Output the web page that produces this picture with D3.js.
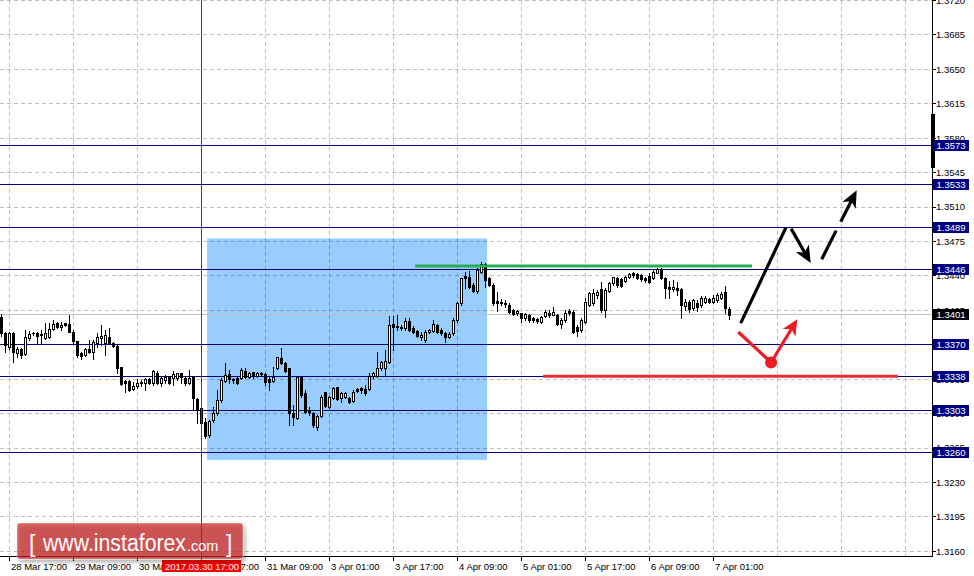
<!DOCTYPE html>
<html><head><meta charset="utf-8">
<script src="https://cdn.jsdelivr.net/npm/d3@7"></script>
<style>
html,body{margin:0;padding:0;background:#fff;}
svg{display:block;font-family:"Liberation Sans",Arial,sans-serif;}
</style></head><body>
<svg id="c" width="974" height="576"></svg>
<script>
// ---------------- DATA ----------------
const startTime = Date.UTC(2017, 2, 28, 15); // first bar: 28 Mar 15:00 (H1 bars)
const opens = [1.3398,1.3382,1.3368,1.3382,1.3362,1.3366,1.3361,1.3377,1.3382,1.3382,
1.3381,1.3377,1.3378,1.3386,1.3392,1.3388,1.3392,1.3391,1.3383,1.3374,
1.3362,1.3360,1.3366,1.3363,1.3372,1.3377,1.3372,1.3378,1.3372,1.3369,
1.3347,1.3333,1.3333,1.3325,1.3328,1.3332,1.3331,1.3335,1.3331,1.3341,
1.3331,1.3334,1.3338,1.3336,1.3336,1.3341,1.3336,1.3331,1.3338,1.3315,
1.3306,1.3292,1.3278,1.3294,1.3301,1.3314,1.3333,1.3340,1.3335,1.3336,
1.3336,1.3343,1.3337,1.3342,1.3338,1.3341,1.3340,1.3335,1.3333,1.3346,
1.3357,1.3351,1.3346,1.3301,1.3296,1.3337,1.3321,1.3304,1.3301,1.3286,
1.3298,1.3322,1.3307,1.3316,1.3327,1.3316,1.3317,1.3316,1.3313,1.3325,
1.3326,1.3325,1.3325,1.3338,1.3338,1.3346,1.3346,1.3352,1.3391,1.3388,
1.3388,1.3387,1.3394,1.3387,1.3384,1.3378,1.3375,1.3383,1.3384,1.3390,
1.3385,1.3382,1.3378,1.3382,1.3395,1.3412,1.3440,1.3439,1.3431,1.3425,
1.3444,1.3452,1.3438,1.3431,1.3414,1.3413,1.3412,1.3410,1.3405,1.3402,
1.3402,1.3397,1.3400,1.3397,1.3396,1.3393,1.3399,1.3402,1.3400,1.3400,
1.3391,1.3395,1.3404,1.3403,1.3388,1.3385,1.3393,1.3410,1.3412,1.3421,
1.3427,1.3405,1.3425,1.3433,1.3438,1.3437,1.3435,1.3439,1.3443,1.3442,
1.3441,1.3438,1.3440,1.3438,1.3443,1.3447,1.3438,1.3429,1.3427,1.3428,
1.3427,1.3409,1.3413,1.3407,1.3412,1.3410,1.3413,1.3417,1.3413,1.3415,
1.3418,1.3424,1.3406];
const highs = [1.3401,1.3383,1.3383,1.3383,1.3368,1.3367,1.3385,1.3384,1.3383,1.3383,
1.3385,1.3392,1.3392,1.3395,1.3393,1.3393,1.3392,1.3400,1.3385,1.3374,
1.3363,1.3367,1.3375,1.3375,1.3382,1.3390,1.3385,1.3387,1.3373,1.3370,
1.3347,1.3334,1.3334,1.3332,1.3335,1.3334,1.3336,1.3336,1.3344,1.3343,
1.3337,1.3339,1.3338,1.3343,1.3341,1.3341,1.3337,1.3344,1.3338,1.3316,
1.3307,1.3296,1.3294,1.3307,1.3324,1.3336,1.3351,1.3344,1.3336,1.3337,
1.3346,1.3346,1.3342,1.3342,1.3342,1.3342,1.3341,1.3337,1.3347,1.3358,
1.3367,1.3352,1.3346,1.3309,1.3338,1.3338,1.3324,1.3307,1.3302,1.3299,
1.3319,1.3322,1.3318,1.3327,1.3327,1.3322,1.3322,1.3317,1.3324,1.3326,
1.3327,1.3329,1.3341,1.3342,1.3363,1.3354,1.3365,1.3399,1.3399,1.3400,
1.3390,1.3397,1.3397,1.3389,1.3385,1.3383,1.3385,1.3386,1.3395,1.3391,
1.3387,1.3383,1.3383,1.3397,1.3413,1.3438,1.3444,1.3445,1.3433,1.3448,
1.3454,1.3453,1.3439,1.3433,1.3424,1.3417,1.3415,1.3412,1.3406,1.3405,
1.3402,1.3402,1.3401,1.3398,1.3397,1.3399,1.3405,1.3405,1.3408,1.3401,
1.3397,1.3405,1.3406,1.3405,1.3390,1.3397,1.3418,1.3424,1.3427,1.3426,
1.3434,1.3428,1.3434,1.3439,1.3439,1.3438,1.3440,1.3443,1.3444,1.3443,
1.3442,1.3439,1.3443,1.3446,1.3448,1.3448,1.3439,1.3435,1.3436,1.3434,
1.3428,1.3417,1.3415,1.3417,1.3415,1.3420,1.3420,1.3418,1.3421,1.3423,
1.3424,1.3430,1.3408];
const lows = [1.3379,1.3363,1.3366,1.3352,1.3358,1.3357,1.3360,1.3375,1.3380,1.3372,
1.3372,1.3376,1.3377,1.3385,1.3387,1.3385,1.3389,1.3383,1.3372,1.3358,
1.3356,1.3359,1.3362,1.3356,1.3368,1.3370,1.3360,1.3371,1.3368,1.3341,
1.3329,1.3322,1.3323,1.3324,1.3326,1.3328,1.3324,1.3330,1.3329,1.3330,
1.3328,1.3331,1.3330,1.3329,1.3334,1.3331,1.3329,1.3330,1.3304,1.3290,
1.3289,1.3275,1.3276,1.3292,1.3299,1.3312,1.3332,1.3331,1.3331,1.3330,
1.3335,1.3336,1.3336,1.3336,1.3337,1.3338,1.3329,1.3324,1.3332,1.3345,
1.3350,1.3342,1.3288,1.3288,1.3295,1.3317,1.3301,1.3299,1.3286,1.3283,
1.3297,1.3307,1.3306,1.3315,1.3314,1.3312,1.3316,1.3311,1.3312,1.3322,
1.3321,1.3319,1.3324,1.3336,1.3337,1.3344,1.3339,1.3351,1.3365,1.3385,
1.3385,1.3385,1.3384,1.3382,1.3378,1.3375,1.3373,1.3382,1.3383,1.3382,
1.3380,1.3373,1.3377,1.3380,1.3393,1.3410,1.3428,1.3428,1.3424,1.3423,
1.3443,1.3429,1.3430,1.3410,1.3404,1.3410,1.3408,1.3402,1.3400,1.3400,
1.3393,1.3395,1.3393,1.3393,1.3392,1.3392,1.3398,1.3398,1.3400,1.3390,
1.3387,1.3393,1.3400,1.3382,1.3379,1.3383,1.3392,1.3409,1.3410,1.3418,
1.3403,1.3398,1.3424,1.3431,1.3429,1.3429,1.3434,1.3438,1.3439,1.3437,
1.3435,1.3434,1.3433,1.3437,1.3443,1.3437,1.3418,1.3418,1.3425,1.3421,
1.3397,1.3405,1.3403,1.3405,1.3404,1.3408,1.3412,1.3412,1.3412,1.3413,
1.3417,1.3402,1.3396];
const closes = [1.3382,1.3370,1.3382,1.3363,1.3366,1.3360,1.3378,1.3381,1.3382,1.3379,
1.3380,1.3382,1.3386,1.3391,1.3388,1.3390,1.3390,1.3383,1.3374,1.3360,
1.3359,1.3366,1.3363,1.3373,1.3378,1.3379,1.3380,1.3372,1.3369,1.3346,
1.3330,1.3331,1.3324,1.3328,1.3331,1.3331,1.3335,1.3331,1.3343,1.3331,
1.3336,1.3337,1.3331,1.3340,1.3341,1.3337,1.3331,1.3336,1.3316,1.3304,
1.3290,1.3277,1.3293,1.3301,1.3314,1.3334,1.3339,1.3335,1.3334,1.3331,
1.3344,1.3337,1.3341,1.3339,1.3341,1.3340,1.3332,1.3332,1.3337,1.3358,
1.3351,1.3343,1.3301,1.3297,1.3337,1.3319,1.3302,1.3302,1.3288,1.3298,
1.3317,1.3308,1.3317,1.3326,1.3315,1.3321,1.3321,1.3312,1.3322,1.3323,
1.3324,1.3321,1.3338,1.3341,1.3346,1.3352,1.3354,1.3390,1.3388,1.3389,
1.3387,1.3394,1.3385,1.3383,1.3379,1.3380,1.3383,1.3385,1.3391,1.3383,
1.3382,1.3378,1.3381,1.3395,1.3412,1.3438,1.3438,1.3429,1.3425,1.3446,
1.3452,1.3436,1.3431,1.3412,1.3412,1.3412,1.3411,1.3403,1.3401,1.3404,
1.3397,1.3401,1.3395,1.3395,1.3394,1.3398,1.3403,1.3400,1.3403,1.3391,
1.3395,1.3402,1.3402,1.3383,1.3384,1.3395,1.3413,1.3423,1.3423,1.3424,
1.3405,1.3426,1.3433,1.3439,1.3431,1.3430,1.3439,1.3442,1.3441,1.3438,
1.3437,1.3436,1.3434,1.3444,1.3447,1.3438,1.3428,1.3427,1.3429,1.3426,
1.3410,1.3413,1.3406,1.3415,1.3408,1.3418,1.3418,1.3413,1.3418,1.3421,
1.3422,1.3407,1.3400];

const priceTicks = [1.3160,1.3195,1.3230,1.3265,1.3300,1.3335,1.3370,1.3405,1.3440,1.3475,1.3510,1.3545,1.3580,1.3615,1.3650,1.3685,1.3720];
const tickLabels = ["28 Mar 17:00","29 Mar 09:00","30 Mar 01:00","30 Mar 17:00","31 Mar 09:00","3 Apr 01:00","3 Apr 17:00","4 Apr 09:00","5 Apr 01:00","5 Apr 17:00","6 Apr 09:00","7 Apr 01:00"];
const gridLabels = ["7 Apr 17:00","10 Apr 09:00","11 Apr 01:00"]; // grid-only (future) verticals
const levels = [1.3573,1.3533,1.3489,1.3446,1.3370,1.3338,1.3303,1.3260];
const bidPrice = 1.3401;
const cursorTime = "30 Mar 17:00";
const cursorLabel = "2017.03.30 17:00";
const zoneBars = [51.4, 121.4];
const zonePrices = [1.3478, 1.3253];
const resistBars = [103.4, 187.6];
const resistPrice = 1.3450;
const supportBars = [135.4, 224.1];
const supportPrice = 1.3338;
const upPathBars = [184.8, 196.1];
const upPathPrices = [1.3392, 1.3489];
const dropBars = [197.4, 202.3];
const dropPrices = [1.3488, 1.3453];
const rallyBars = [205.05, 213.8];
const rallyPrices = [1.3457, 1.3527];
const altBars = [184.2, 192.4, 198.95];
const altPrices = [1.3383, 1.3352, 1.3396];

// ---------------- SETUP ----------------
const W = 974, H = 576, plotR = 932, plotB = 556;
const svg = d3.select("#c");
const months = ["Jan","Feb","Mar","Apr","May","Jun","Jul","Aug","Sep","Oct","Nov","Dec"];
const pad = n => (n < 10 ? "0" : "") + n;
// bar times (hourly, skipping weekend)
const barTimes = [];
{
  let t = startTime;
  while (barTimes.length < 240) {
    const d = new Date(t);
    const wd = d.getUTCDay();
    if (wd !== 0 && wd !== 6) barTimes.push(d.getUTCDate() + " " + months[d.getUTCMonth()] + " " + pad(d.getUTCHours()) + ":00");
    t += 3600000;
  }
}
const barIndex = lbl => barTimes.indexOf(lbl);

const x = d3.scaleLinear().domain([0, 232]).range([1.5, 929.5]);
const y = d3.scaleLinear().domain([1.3160, 1.3720]).range([551.4, 0.36]);
const px = i => Math.floor(x(i));
const py = v => Math.round(y(v));

const defs = svg.append("defs");
const sh = defs.append("filter").attr("id","sh").attr("x","-10%").attr("y","-20%").attr("width","130%").attr("height","160%");
sh.append("feDropShadow").attr("dx",2).attr("dy",3).attr("stdDeviation",2.2).attr("flood-color","#000").attr("flood-opacity",0.45);
defs.append("clipPath").attr("id","plot").append("rect").attr("x",0).attr("y",0).attr("width",plotR).attr("height",plotB);

svg.append("rect").attr("width",W).attr("height",H).attr("fill","#fff");
const plot = svg.append("g").attr("clip-path","url(#plot)");

// zone rectangle
plot.append("rect")
  .attr("x", x(zoneBars[0])).attr("width", x(zoneBars[1]) - x(zoneBars[0]))
  .attr("y", y(zonePrices[0])).attr("height", y(zonePrices[1]) - y(zonePrices[0]))
  .attr("fill", "rgb(153,204,255)");

// grid
const grid = plot.append("g").style("mix-blend-mode","multiply").attr("shape-rendering","crispEdges");
const gridBars = tickLabels.concat(gridLabels).map(barIndex);
grid.selectAll("line.v").data(gridBars).join("line")
  .attr("x1", d => px(d) + 0.5).attr("x2", d => px(d) + 0.5)
  .attr("y1", 0).attr("y2", plotB)
  .attr("stroke", "#c0c0c0").attr("stroke-dasharray", "4,3");
grid.selectAll("line.h").data(priceTicks).join("line")
  .attr("x1", 0).attr("x2", plotR)
  .attr("y1", d => Math.floor(y(d)) + 0.5).attr("y2", d => Math.floor(y(d)) + 0.5)
  .attr("stroke", "#c0c0c0").attr("stroke-dasharray", "4,3");

// level lines
plot.append("g").attr("shape-rendering","crispEdges").selectAll("line").data(levels).join("line")
  .attr("x1", 0).attr("x2", plotR)
  .attr("y1", d => Math.floor(y(d)) + 0.5).attr("y2", d => Math.floor(y(d)) + 0.5)
  .attr("stroke", "#000080");
// bid line
plot.append("line").attr("shape-rendering","crispEdges")
  .attr("x1", 0).attr("x2", plotR)
  .attr("y1", Math.floor(y(bidPrice)) + 0.5).attr("y2", Math.floor(y(bidPrice)) + 0.5)
  .attr("stroke", "#c0c0c0");

// candles
const cg = plot.append("g").attr("shape-rendering","crispEdges");
opens.forEach((o, i) => {
  const c = closes[i], h = highs[i], l = lows[i];
  const cx = px(i);
  cg.append("line").attr("x1", cx + 0.5).attr("x2", cx + 0.5)
    .attr("y1", py(h)).attr("y2", py(l) + 1).attr("stroke", "#000");
  const top = py(Math.max(o, c)), bot = py(Math.min(o, c));
  if (c < o) {
    cg.append("rect").attr("x", cx - 1).attr("width", 3).attr("y", top).attr("height", Math.max(1, bot - top + 1)).attr("fill", "#000");
  } else if (bot - top >= 2) {
    cg.append("rect").attr("x", cx - 0.5).attr("width", 2).attr("y", top + 0.5).attr("height", bot - top)
      .attr("fill", "#fff").attr("stroke", "#000");
  } else {
    cg.append("rect").attr("x", cx - 1).attr("width", 3).attr("y", top).attr("height", Math.max(1, bot - top + 1)).attr("fill", "#000");
  }
});

// annotations
const ann = plot.append("g");
ann.append("line").attr("x1", x(resistBars[0])).attr("x2", x(resistBars[1]))
  .attr("y1", y(resistPrice)).attr("y2", y(resistPrice))
  .attr("stroke", "#2aae4c").attr("stroke-width", 3);
ann.append("line").attr("x1", x(supportBars[0])).attr("x2", x(supportBars[1]))
  .attr("y1", y(supportPrice)).attr("y2", y(supportPrice))
  .attr("stroke", "#ea2a2f").attr("stroke-width", 3.2);

function arrow(g, p1, p2, color, w, dash, hl, hw) {
  const [x1, y1] = p1, [x2, y2] = p2;
  const dx = x2 - x1, dy = y2 - y1, L = Math.hypot(dx, dy), ux = dx / L, uy = dy / L;
  const ln = g.append("line").attr("x1", x1).attr("y1", y1)
    .attr("x2", x2 - ux * hl * 0.7).attr("y2", y2 - uy * hl * 0.7)
    .attr("stroke", color).attr("stroke-width", w);
  if (dash) ln.attr("stroke-dasharray", dash);
  const bx = x2 - ux * hl, by = y2 - uy * hl;
  const nx = x2 - ux * hl * 0.72, ny = y2 - uy * hl * 0.72;
  g.append("polygon").attr("points", [
    [x2, y2], [bx - uy * hw / 2, by + ux * hw / 2], [nx, ny], [bx + uy * hw / 2, by - ux * hw / 2]
  ].map(p => p.join(",")).join(" ")).attr("fill", color);
}
const P = (b, p) => [x(b), y(p)];
ann.append("line")
  .attr("x1", x(upPathBars[0])).attr("y1", y(upPathPrices[0]))
  .attr("x2", x(upPathBars[1])).attr("y2", y(upPathPrices[1]))
  .attr("stroke", "#000").attr("stroke-width", 3.2);
arrow(ann, P(dropBars[0], dropPrices[0]), P(dropBars[1], dropPrices[1]), "#000", 3.2, null, 17, 15);
arrow(ann, P(rallyBars[0], rallyPrices[0]), P(rallyBars[1], rallyPrices[1]), "#000", 3.2, "32,10", 17, 15);
ann.append("line")
  .attr("x1", x(altBars[0])).attr("y1", y(altPrices[0]))
  .attr("x2", x(altBars[1])).attr("y2", y(altPrices[1]))
  .attr("stroke", "#ed1c24").attr("stroke-width", 3.2);
arrow(ann, P(altBars[1], altPrices[1]), P(altBars[2], altPrices[2]), "#ed1c24", 3.2, null, 16, 15);
ann.append("circle").attr("cx", x(altBars[1])).attr("cy", y(altPrices[1])).attr("r", 6).attr("fill", "#ed1c24");

// crosshair vertical
const ci = barIndex(cursorTime);
svg.append("line").attr("shape-rendering","crispEdges")
  .attr("x1", px(ci) + 0.5).attr("x2", px(ci) + 0.5).attr("y1", 0).attr("y2", plotB)
  .attr("stroke", "#e00000");

// axes
const axes = svg.append("g").attr("shape-rendering","crispEdges");
axes.append("line").attr("x1", plotR + 0.5).attr("x2", plotR + 0.5).attr("y1", 0).attr("y2", plotB + 1).attr("stroke", "#000");
axes.append("line").attr("x1", 0).attr("x2", plotR + 1).attr("y1", plotB + 0.5).attr("y2", plotB + 0.5).attr("stroke", "#000");
axes.append("rect").attr("x", plotR - 1).attr("width", 4).attr("y", 114).attr("height", 54).attr("fill", "#000");

axes.selectAll("line.pt").data(priceTicks).join("line")
  .attr("x1", plotR).attr("x2", plotR + 4)
  .attr("y1", d => Math.floor(y(d)) + 0.5).attr("y2", d => Math.floor(y(d)) + 0.5).attr("stroke", "#000");
svg.append("g").selectAll("text").data(priceTicks).join("text")
  .attr("x", 936).attr("y", d => y(d) + 3.4)
  .attr("font-size", 9.5).attr("fill", "#000")
  .text(d => d.toFixed(4));

const tickBars = tickLabels.map(barIndex);
axes.selectAll("line.tt").data(tickBars).join("line")
  .attr("x1", d => px(d) + 0.5).attr("x2", d => px(d) + 0.5)
  .attr("y1", plotB).attr("y2", plotB + 5).attr("stroke", "#000");
svg.append("g").selectAll("text").data(tickLabels).join("text")
  .attr("x", d => px(barIndex(d)) + 2).attr("y", 569.5)
  .attr("font-size", 9.5).attr("fill", "#000")
  .text(d => d);

// level labels
const lab = svg.append("g");
levels.concat([bidPrice]).forEach(v => {
  const cy = Math.floor(y(v));
  lab.append("rect").attr("x", 933).attr("y", cy - 5).attr("width", 36).attr("height", 11)
    .attr("fill", v === bidPrice ? "#000" : "#000080").attr("shape-rendering","crispEdges");
  lab.append("text").attr("x", 936.5).attr("y", cy + 4).attr("font-size", 9.5).attr("fill", "#fff").text(v.toFixed(4));
});

// cursor time label
svg.append("rect").attr("x", 162).attr("y", 560).attr("width", 79).attr("height", 12).attr("fill", "#ff0000");
svg.append("text").attr("x", 165).attr("y", 569.5).attr("font-size", 9.5).attr("fill", "#fff").text(cursorLabel);

// logo
const logo = svg.append("g");
logo.append("rect").attr("x", 17).attr("y", 523).attr("width", 226).attr("height", 36).attr("rx", 3)
  .attr("fill", "rgba(200,32,36,0.68)").attr("stroke", "rgba(255,255,255,0.35)").attr("filter", "url(#sh)");
logo.append("text").attr("x", 29).attr("y", 552).attr("fill", "#fff").attr("font-size", 23).text("[");
logo.append("text").attr("x", 43).attr("y", 551).attr("fill", "#fff").attr("font-size", 23)
  .attr("textLength", 143).attr("lengthAdjust", "spacingAndGlyphs").text("www.instaforex");
logo.append("text").attr("x", 187).attr("y", 551).attr("fill", "#fff").attr("font-size", 14.5).text(".com");
logo.append("text").attr("x", 226).attr("y", 552).attr("fill", "#fff").attr("font-size", 23).text("]");
</script>
</body></html>
